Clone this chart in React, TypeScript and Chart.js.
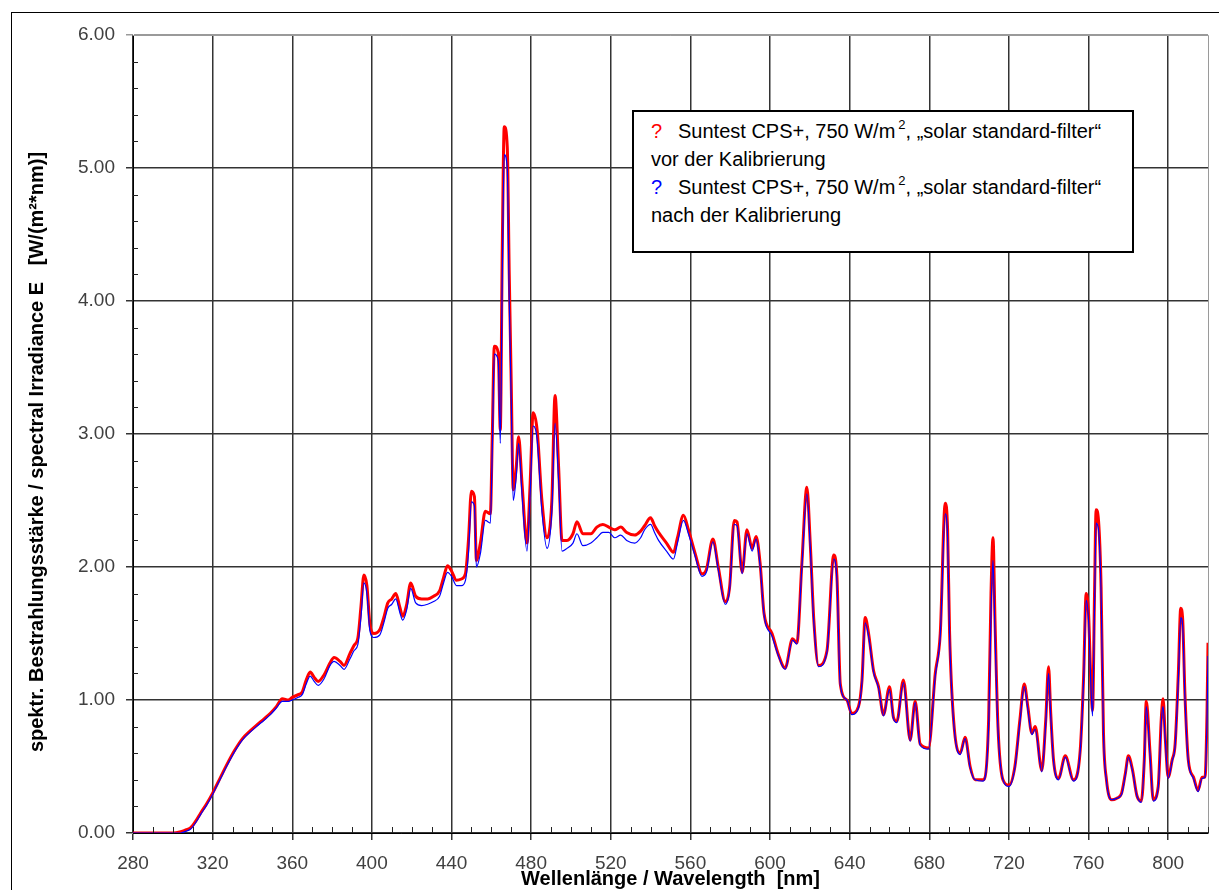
import React, { useEffect, useRef } from "react";
import { Chart, registerables } from "chart.js";

Chart.register(...registerables);

// ---------- data ----------
const wavelengths = [
  280, 290, 300, 304, 306, 309, 312, 314, 317, 320,
  324, 327, 331, 335, 339, 342, 346, 349, 352, 355,
  358, 360, 363, 365, 367, 369, 371, 373, 376, 379,
  381, 384, 386, 389, 391, 393, 394.5, 396, 397.5, 399,
  401, 404, 406, 408, 410, 412, 414, 415.5, 417.5, 419.5,
  422, 425, 428, 431, 434, 436, 438, 440, 442.5, 445,
  447, 448.5, 450, 451.5, 452.5, 454.5, 457, 459.5, 460.5, 461.5,
  463.5, 464.5, 465.5, 466.5, 468, 469, 470, 471, 472.5, 473.7,
  475.4, 477.9, 479.5, 481, 483, 485.4, 488, 490.4, 492, 493.8,
  495.5, 498, 501, 503, 506, 510, 513, 516, 519, 522,
  525, 528, 532, 535, 537, 540, 542, 544, 548, 551.5,
  553.5, 556.5, 559, 562.4, 565.8, 568, 571.3, 574, 577.5, 579.7,
  582, 583.4, 586, 588.4, 591, 593, 595, 597, 601, 604,
  607.6, 611.3, 613.5, 616, 618.5, 620.2, 622, 624.4, 628.6, 632,
  633.6, 635.3, 638.6, 641, 644.4, 646.2, 647.8, 649.5, 652, 654.5,
  657, 660, 662, 663.7, 667, 670.4, 672.9, 675.4, 679.6, 683,
  685.5, 688, 689.2, 690.2, 692.2, 695.5, 698, 700.5, 703, 707,
  709.8, 711, 712, 713, 714.5, 717, 720, 723, 725.5, 727.7,
  729.5, 731.5, 733.2, 736.5, 738.5, 739.9, 741, 742.4, 744.9, 748.3,
  752.4, 755.8, 757.5, 758.8, 760, 761.2, 762, 763, 763.8, 765,
  766.3, 767.5, 769, 771.6, 774, 776.6, 778.5, 780, 782, 784.3,
  786.5, 788, 789, 790.9, 792.5, 795, 796.5, 797.4, 798.6, 800,
  802, 803.5, 805.1, 806.3, 807.3, 808.4, 810.1, 812.7, 815, 817,
  818.5, 819.5, 820,
];

// red: vor der Kalibrierung
const vorKalibrierung = [
  0, 0, 0, 0.01, 0.02, 0.04, 0.10, 0.15, 0.22, 0.30,
  0.42, 0.51, 0.62, 0.71, 0.77, 0.81, 0.86, 0.90, 0.95, 1.01,
  1.00, 1.02, 1.04, 1.06, 1.15, 1.21, 1.17, 1.14, 1.19, 1.28,
  1.32, 1.29, 1.26, 1.35, 1.41, 1.47, 1.70, 1.94, 1.86, 1.57,
  1.50, 1.53, 1.62, 1.73, 1.76, 1.80, 1.70, 1.63, 1.72, 1.88,
  1.78, 1.76, 1.76, 1.78, 1.82, 1.92, 2.01, 1.97, 1.90, 1.91,
  1.95, 2.20, 2.57, 2.53, 2.05, 2.18, 2.42, 2.40, 3.00, 3.66,
  3.61, 3.03, 4.40, 5.31, 5.16, 4.20, 3.38, 2.58, 2.75, 2.98,
  2.63, 2.18, 2.63, 3.16, 3.03, 2.50, 2.22, 2.50, 3.29, 2.75,
  2.20, 2.20, 2.25, 2.34, 2.25, 2.25, 2.30, 2.32, 2.30, 2.28,
  2.30, 2.26, 2.24, 2.27, 2.31, 2.37, 2.31, 2.26, 2.18, 2.11,
  2.22, 2.39, 2.28, 2.10, 1.95, 1.98, 2.21, 2.00, 1.74, 1.85,
  2.35, 2.34, 1.96, 2.28, 2.14, 2.23, 2.03, 1.65, 1.50, 1.35,
  1.24, 1.46, 1.43, 2.03, 2.60, 2.18, 1.60, 1.26, 1.37, 2.09,
  1.93, 1.12, 1.00, 0.90, 0.95, 1.15, 1.62, 1.50, 1.22, 1.10,
  0.89, 1.10, 0.87, 0.84, 1.15, 0.70, 0.99, 0.67, 0.64, 1.20,
  1.50, 2.48, 2.28, 1.50, 0.85, 0.60, 0.72, 0.50, 0.40, 0.40,
  0.85, 1.80, 2.22, 1.60, 0.80, 0.40, 0.36, 0.50, 0.85, 1.12,
  0.95, 0.75, 0.80, 0.47, 0.85, 1.25, 0.90, 0.55, 0.41, 0.58,
  0.40, 0.62, 1.17, 1.80, 1.65, 1.12, 0.92, 1.80, 2.43, 2.35,
  1.85, 0.75, 0.40, 0.25, 0.26, 0.30, 0.45, 0.58, 0.48, 0.28,
  0.24, 0.55, 0.99, 0.60, 0.25, 0.35, 0.85, 1.01, 0.70, 0.42,
  0.55, 0.67, 1.20, 1.69, 1.60, 1.05, 0.55, 0.42, 0.32, 0.42,
  0.42, 0.90, 1.43,
];

// blue: nach der Kalibrierung
const nachKalibrierung = [
  0, 0, 0, 0, 0.01, 0.03, 0.09, 0.14, 0.21, 0.29,
  0.41, 0.50, 0.61, 0.70, 0.76, 0.80, 0.85, 0.89, 0.94, 0.99,
  0.99, 1.00, 1.02, 1.04, 1.12, 1.18, 1.14, 1.11, 1.16, 1.26,
  1.29, 1.26, 1.23, 1.31, 1.37, 1.42, 1.62, 1.88, 1.80, 1.52,
  1.47, 1.49, 1.58, 1.69, 1.72, 1.76, 1.66, 1.60, 1.68, 1.84,
  1.73, 1.71, 1.72, 1.74, 1.78, 1.88, 1.96, 1.93, 1.86, 1.86,
  1.90, 2.10, 2.49, 2.46, 2.00, 2.10, 2.35, 2.33, 2.90, 3.60,
  3.55, 2.93, 4.20, 5.10, 5.00, 4.00, 3.25, 2.50, 2.68, 2.93,
  2.55, 2.12, 2.55, 3.06, 2.96, 2.42, 2.14, 2.42, 3.08, 2.65,
  2.12, 2.14, 2.18, 2.25, 2.16, 2.18, 2.22, 2.26, 2.26, 2.22,
  2.24, 2.20, 2.18, 2.22, 2.28, 2.32, 2.26, 2.20, 2.12, 2.06,
  2.18, 2.35, 2.25, 2.08, 1.93, 1.96, 2.19, 1.98, 1.72, 1.83,
  2.32, 2.31, 1.95, 2.25, 2.12, 2.21, 2.01, 1.64, 1.48, 1.34,
  1.23, 1.45, 1.42, 2.00, 2.55, 2.15, 1.58, 1.25, 1.36, 2.06,
  1.90, 1.11, 1.00, 0.89, 0.94, 1.14, 1.58, 1.48, 1.21, 1.09,
  0.88, 1.08, 0.86, 0.83, 1.13, 0.69, 0.98, 0.66, 0.63, 1.18,
  1.48, 2.40, 2.22, 1.48, 0.84, 0.59, 0.71, 0.49, 0.40, 0.39,
  0.80, 1.65, 2.05, 1.50, 0.78, 0.40, 0.35, 0.49, 0.83, 1.10,
  0.93, 0.74, 0.78, 0.46, 0.82, 1.20, 0.88, 0.54, 0.40, 0.57,
  0.39, 0.61, 1.14, 1.75, 1.60, 1.10, 0.88, 1.70, 2.33, 2.28,
  1.80, 0.74, 0.39, 0.25, 0.26, 0.29, 0.44, 0.57, 0.47, 0.28,
  0.23, 0.54, 0.95, 0.58, 0.24, 0.34, 0.82, 0.95, 0.68, 0.41,
  0.54, 0.66, 1.15, 1.62, 1.55, 1.02, 0.54, 0.41, 0.31, 0.41,
  0.42, 0.85, 1.33,
];

const xTickValues = [280, 320, 360, 400, 440, 480, 520, 560, 600, 640, 680, 720, 760, 800];
const yTickValues = [0, 1, 2, 3, 4, 5, 6];
const xMinorStep = 10;
const yMinorStep = 0.2;

const xTitle = "Wellenlänge / Wavelength  [nm]";
const yTitle = "spektr. Bestrahlungsstärke / spectral Irradiance E   [W/(m²*nm)]";
const legendMain = "Suntest CPS+, 750 W/m";
const legendTail = ", „solar standard-filter“";
const legendVor = "vor der Kalibrierung";
const legendNach = "nach der Kalibrierung";

const FONT = '"Liberation Sans", Arial, sans-serif';
const GRID = "#333";

const decorPlugin = {
  id: "decor",
  afterDraw(chart: any) {
    const { ctx, chartArea, scales } = chart;
    const { left, right, top, bottom } = chartArea;
    const x = scales.x;
    const y = scales.y;
    ctx.save();
    // gray frame top/right
    ctx.strokeStyle = "#9a9a9a";
    ctx.lineWidth = 1;
    ctx.beginPath();
    ctx.moveTo(left, Math.round(top) + 0.5);
    ctx.lineTo(Math.round(right) + 0.5, Math.round(top) + 0.5);
    ctx.lineTo(Math.round(right) + 0.5, bottom);
    ctx.stroke();
    // minor ticks
    ctx.strokeStyle = "#222";
    ctx.beginPath();
    for (let v = x.min; v <= x.max + 1e-6; v += xMinorStep) {
      if (xTickValues.includes(v)) continue;
      const px = Math.round(x.getPixelForValue(v)) + 0.5;
      ctx.moveTo(px, bottom);
      ctx.lineTo(px, bottom - 6);
    }
    for (let i = 0; i * yMinorStep <= y.max + 1e-6; i++) {
      const v = i * yMinorStep;
      if (Math.abs(v - Math.round(v)) < 1e-6) continue;
      const py = Math.round(y.getPixelForValue(v)) + 0.5;
      ctx.moveTo(left, py);
      ctx.lineTo(left + 5, py);
    }
    ctx.stroke();
    // axis titles
    ctx.fillStyle = "#000";
    ctx.font = `bold 20px ${FONT}`;
    ctx.textAlign = "center";
    ctx.textBaseline = "alphabetic";
    ctx.fillText(xTitle, (left + right) / 2, 885);
    ctx.translate(43, 452);
    ctx.rotate(-Math.PI / 2);
    ctx.fillText(yTitle, 0, 0);
    ctx.restore();
  },
};

export default function App() {
  const canvasRef = useRef<HTMLCanvasElement>(null);

  useEffect(() => {
    const canvas = canvasRef.current;
    if (!canvas) return;
    const chart = new Chart(canvas, {
      type: "line",
      data: {
        labels: wavelengths,
        datasets: [
          {
            label: "vor der Kalibrierung",
            data: wavelengths.map((w, i) => ({ x: w, y: vorKalibrierung[i] })),
            borderColor: "#ff0000",
            borderWidth: 3,
            pointRadius: 0,
            cubicInterpolationMode: "monotone",
            fill: false,
            order: 2,
          },
          {
            label: "nach der Kalibrierung",
            data: wavelengths.map((w, i) => ({ x: w, y: nachKalibrierung[i] })),
            borderColor: "#0000ff",
            borderWidth: 1.2,
            pointRadius: 0,
            cubicInterpolationMode: "monotone",
            fill: false,
            order: 1,
          },
        ],
      },
      options: {
        animation: false,
        responsive: false,
        maintainAspectRatio: false,
        layout: { padding: { top: 35, right: 11, left: 0, bottom: 0 } },
        plugins: { legend: { display: false }, tooltip: { enabled: false } },
        scales: {
          x: {
            type: "linear",
            min: 280,
            max: 820,
            afterBuildTicks: (s: any) => {
              s.ticks = xTickValues.map((v) => ({ value: v }));
            },
            afterFit: (s: any) => {
              s.height = 57;
            },
            grid: { color: GRID, lineWidth: 1.5, tickLength: 7 },
            border: { display: true, color: "#000", width: 1 },
            ticks: {
              font: { family: FONT, size: 19 },
              color: "#404040",
              padding: 12,
              maxRotation: 0,
              autoSkip: false,
              callback: (v: any) => String(v),
            },
          },
          y: {
            type: "linear",
            min: 0,
            max: 6,
            afterBuildTicks: (s: any) => {
              s.ticks = yTickValues.map((v) => ({ value: v }));
            },
            afterFit: (s: any) => {
              s.width = 133;
            },
            grid: {
              color: (c: any) => (c.tick && c.tick.value === 6 ? "#9a9a9a" : GRID),
              lineWidth: 1.5,
              tickLength: 7,
            },
            border: { display: true, color: "#000", width: 1 },
            ticks: {
              font: { family: FONT, size: 19 },
              color: "#404040",
              padding: 11,
              autoSkip: false,
              callback: (v: any) => Number(v).toFixed(2),
            },
          },
        },
      },
      plugins: [decorPlugin],
    });
    return () => chart.destroy();
  }, []);

  const sup = (
    <span style={{ fontSize: 13, position: "relative", top: -9, marginLeft: 3, lineHeight: 0 }}>2</span>
  );

  return (
    <div style={{ position: "absolute", left: 0, top: 0, width: 1219, height: 890, overflow: "hidden", background: "#fff" }}>
      <div
        style={{
          position: "absolute",
          left: 11,
          top: 12,
          width: 1300,
          height: 1000,
          borderTop: "1px solid #000",
          borderLeft: "1px solid #000",
        }}
      />
      <canvas ref={canvasRef} width={1219} height={890} style={{ position: "absolute", left: 0, top: 0, display: "block" }} />
      <div
        style={{
          position: "absolute",
          left: 632,
          top: 110,
          width: 502,
          height: 143,
          boxSizing: "border-box",
          border: "2px solid #000",
          background: "#fff",
          fontFamily: FONT,
          fontSize: 20,
          lineHeight: "28px",
          color: "#000",
          padding: "5px 0 0 17px",
          whiteSpace: "nowrap",
          overflow: "hidden",
        }}
      >
        <div>
          <span style={{ color: "#ff0000", display: "inline-block", width: 27 }}>?</span>
          {legendMain}
          {sup}
          {legendTail}
        </div>
        <div>{legendVor}</div>
        <div>
          <span style={{ color: "#0000ff", display: "inline-block", width: 27 }}>?</span>
          {legendMain}
          {sup}
          {legendTail}
        </div>
        <div>{legendNach}</div>
      </div>
    </div>
  );
}
